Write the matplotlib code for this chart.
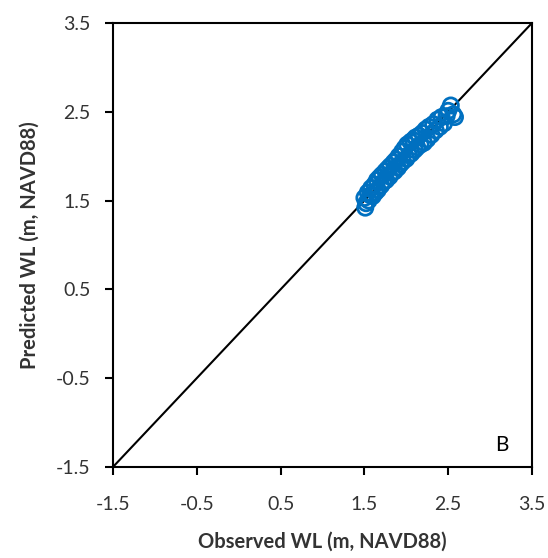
import matplotlib
matplotlib.use("Agg")
import matplotlib.pyplot as plt

observed = [1.50, 1.51, 1.52, 1.54, 1.55, 1.57, 1.58, 1.60, 1.62, 1.63, 1.65, 1.66,
            1.68, 1.70, 1.71, 1.73, 1.75, 1.76, 1.78, 1.80, 1.81, 1.83, 1.85, 1.86,
            1.88, 1.90, 1.91, 1.93, 1.95, 1.96, 1.98, 2.00, 2.01, 2.03, 2.05, 2.06,
            2.08, 2.10, 2.11, 2.13, 2.15, 2.17, 2.19, 2.21, 2.23, 2.25, 2.27, 2.30,
            2.32, 2.35, 2.37, 2.40, 2.42, 2.45, 2.48, 2.50, 2.53, 2.56, 2.58]
predicted = [1.53, 1.42, 1.47, 1.59, 1.50, 1.56, 1.64, 1.55, 1.68, 1.59, 1.73, 1.62,
             1.76, 1.67, 1.79, 1.71, 1.83, 1.73, 1.86, 1.77, 1.89, 1.81, 1.93, 1.83,
             1.96, 1.87, 2.00, 1.91, 2.05, 1.94, 2.09, 1.97, 2.13, 2.01, 2.16, 2.03,
             2.18, 2.07, 2.21, 2.10, 2.23, 2.13, 2.26, 2.15, 2.30, 2.19, 2.33, 2.24,
             2.36, 2.29, 2.41, 2.33, 2.44, 2.37, 2.45, 2.51, 2.57, 2.47, 2.44]

ticks = [-1.5, -0.5, 0.5, 1.5, 2.5, 3.5]
tick_labels = ["-1.5", "-0.5", "0.5", "1.5", "2.5", "3.5"]

plt.rcParams['font.family'] = ['Lato', 'DejaVu Sans']

fig = plt.figure(figsize=(5.48, 5.58), dpi=100)
ax = fig.add_axes([0.206, 0.163, 0.765, 0.796])

ax.plot([-1.5, 3.5], [-1.5, 3.5], color='black', linewidth=1.5, zorder=1)
ax.scatter(observed, predicted, s=120, facecolors='none', edgecolors='#0070C0',
           linewidths=2, zorder=2)

ax.set_xlim(-1.5, 3.5)
ax.set_ylim(-1.5, 3.5)
ax.set_xticks(ticks)
ax.set_xticklabels(tick_labels)
ax.set_yticks(ticks)
ax.set_yticklabels(tick_labels)
ax.tick_params(direction='out', length=6, width=1.5, labelsize=14, colors='black',
               labelcolor='#333333')
ax.tick_params(axis='x', pad=15)
ax.tick_params(axis='y', pad=10)
for sp in ax.spines.values():
    sp.set_linewidth(1.5)
    sp.set_color('black')

ax.set_xlabel("Observed WL (m, NAVD88)", fontsize=14.5, fontweight='bold',
              color='#333333', labelpad=13)
ax.set_ylabel("Predicted WL (m, NAVD88)", fontsize=14.5, fontweight='bold',
              color='#333333', labelpad=12)
ax.text(3.06, -1.32, "B", fontsize=15, color='black')

fig.savefig("out.png", dpi=100)
